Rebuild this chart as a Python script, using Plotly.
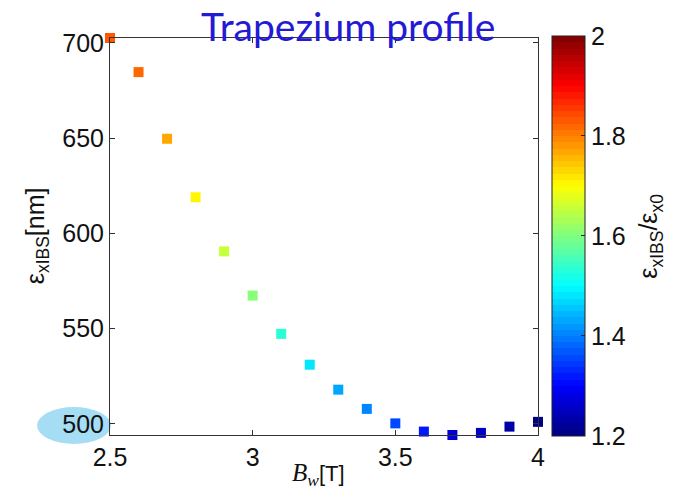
import numpy as np
import plotly.graph_objects as go

# ---- data ----
bw = [2.5, 2.6, 2.7, 2.8, 2.9, 3.0, 3.1, 3.2, 3.3, 3.4, 3.5, 3.6, 3.7, 3.8, 3.9, 4.0]
emit_ibs = [702.6, 684.7, 649.7, 619.0, 590.6, 567.4, 547.3, 531.1, 518.0, 507.9,
            500.3, 496.0, 494.2, 495.3, 498.6, 501.1]
ratio = [1.83, 1.82, 1.767, 1.71, 1.65, 1.60, 1.536, 1.48, 1.43, 1.40,
         1.354, 1.316, 1.27, 1.256, 1.225, 1.21]
x_ticks = [2.5, 3, 3.5, 4]
x_ticklabels = ["2.5", "3", "3.5", "4"]
y_ticks = [500, 550, 600, 650, 700]
cb_ticks = [1.2, 1.4, 1.6, 1.8, 2.0]
cb_ticklabels = ["1.2", "1.4", "1.6", "1.8", "2"]
cmin, cmax = 1.2, 2.0

# ---- MATLAB-style jet colormap, 64 discrete bands ----
def jet(t):
    r = np.clip(1.5 - abs(4 * t - 3), 0, 1)
    g = np.clip(1.5 - abs(4 * t - 2), 0, 1)
    b = np.clip(1.5 - abs(4 * t - 1), 0, 1)
    return "rgb(%d,%d,%d)" % (round(r * 255), round(g * 255), round(b * 255))

n = 64
colorscale = []
for i in range(n):
    c = jet((i + 0.5) / n)
    colorscale.append([i / n, c])
    colorscale.append([(i + 1) / n, c])

# ---- geometry helpers (pixel -> paper fraction) ----
W, H = 673, 497
L, R, T, B = 110, 538, 37.5, 435
def px(x):
    return (x - L) / (R - L)
def py(y):
    return (B - y) / (B - T)

tickfont = dict(family="Liberation Sans, Arial", size=25, color="#111")

fig = go.Figure()
fig.add_trace(go.Scatter(
    x=bw, y=emit_ibs, mode="markers", cliponaxis=False,
    marker=dict(symbol="square", size=10, color=ratio, cmin=cmin, cmax=cmax,
                colorscale=colorscale, line=dict(width=0),
                colorbar=dict(
                    x=px(551.5), xanchor="left", xpad=0,
                    y=py(235.7), yanchor="middle", ypad=0,
                    thickness=33, thicknessmode="pixels",
                    len=400, lenmode="pixels",
                    outlinecolor="#222", outlinewidth=1,
                    ticks="inside", ticklen=4, tickcolor="#222",
                    tickvals=cb_ticks, ticktext=cb_ticklabels,
                    tickfont=tickfont,
                )),
    showlegend=False,
))

axis_common = dict(showgrid=False, zeroline=False, showline=True, linecolor="#333",
                   linewidth=1, mirror="allticks", ticks="inside", ticklen=5,
                   tickcolor="#333", tickfont=tickfont)

fig.update_xaxes(range=[min(bw), max(bw)], tickvals=x_ticks, ticktext=x_ticklabels,
                 **axis_common)
fig.update_yaxes(range=[min(emit_ibs), max(emit_ibs)], tickvals=y_ticks, **axis_common)

fig.update_layout(
    width=W, height=H,
    margin=dict(l=L, r=W - R, t=T, b=H - B),
    paper_bgcolor="white", plot_bgcolor="rgba(0,0,0,0)",
    shapes=[dict(type="circle", xref="paper", yref="paper",
                 x0=px(37), x1=px(111), y0=py(444), y1=py(407),
                 fillcolor="#A5DDF5", line=dict(width=0), layer="below")],
    annotations=[
        dict(text="Trapezium profile", xref="paper", yref="paper",
             x=px(348), y=py(25), xanchor="center", yanchor="middle",
             showarrow=False,
             font=dict(family="Lato, Open Sans", size=39, color="rgb(36,26,214)")),
        dict(text="ε<sub>xIBS</sub>[nm]", xref="paper", yref="paper",
             x=px(37), y=py(236), xanchor="center", yanchor="middle",
             textangle=-90, showarrow=False,
             font=dict(family="Liberation Sans, Arial", size=25, color="#111")),
        dict(text='<span style="font-family:Liberation Serif;font-size:25px"><i>B<sub>w</sub></i></span>[T]',
             xref="paper", yref="paper",
             x=px(318), y=py(475), xanchor="center", yanchor="middle",
             showarrow=False,
             font=dict(family="Liberation Sans, Arial", size=22, color="#111")),
        dict(text="ε<sub>xIBS</sub>/ε<sub>x0</sub>", xref="paper", yref="paper",
             x=px(650), y=py(236.5), xanchor="center", yanchor="middle",
             textangle=-90, showarrow=False,
             font=dict(family="Liberation Sans, Arial", size=25, color="#111")),
    ],
)

fig.write_html("out.html")
